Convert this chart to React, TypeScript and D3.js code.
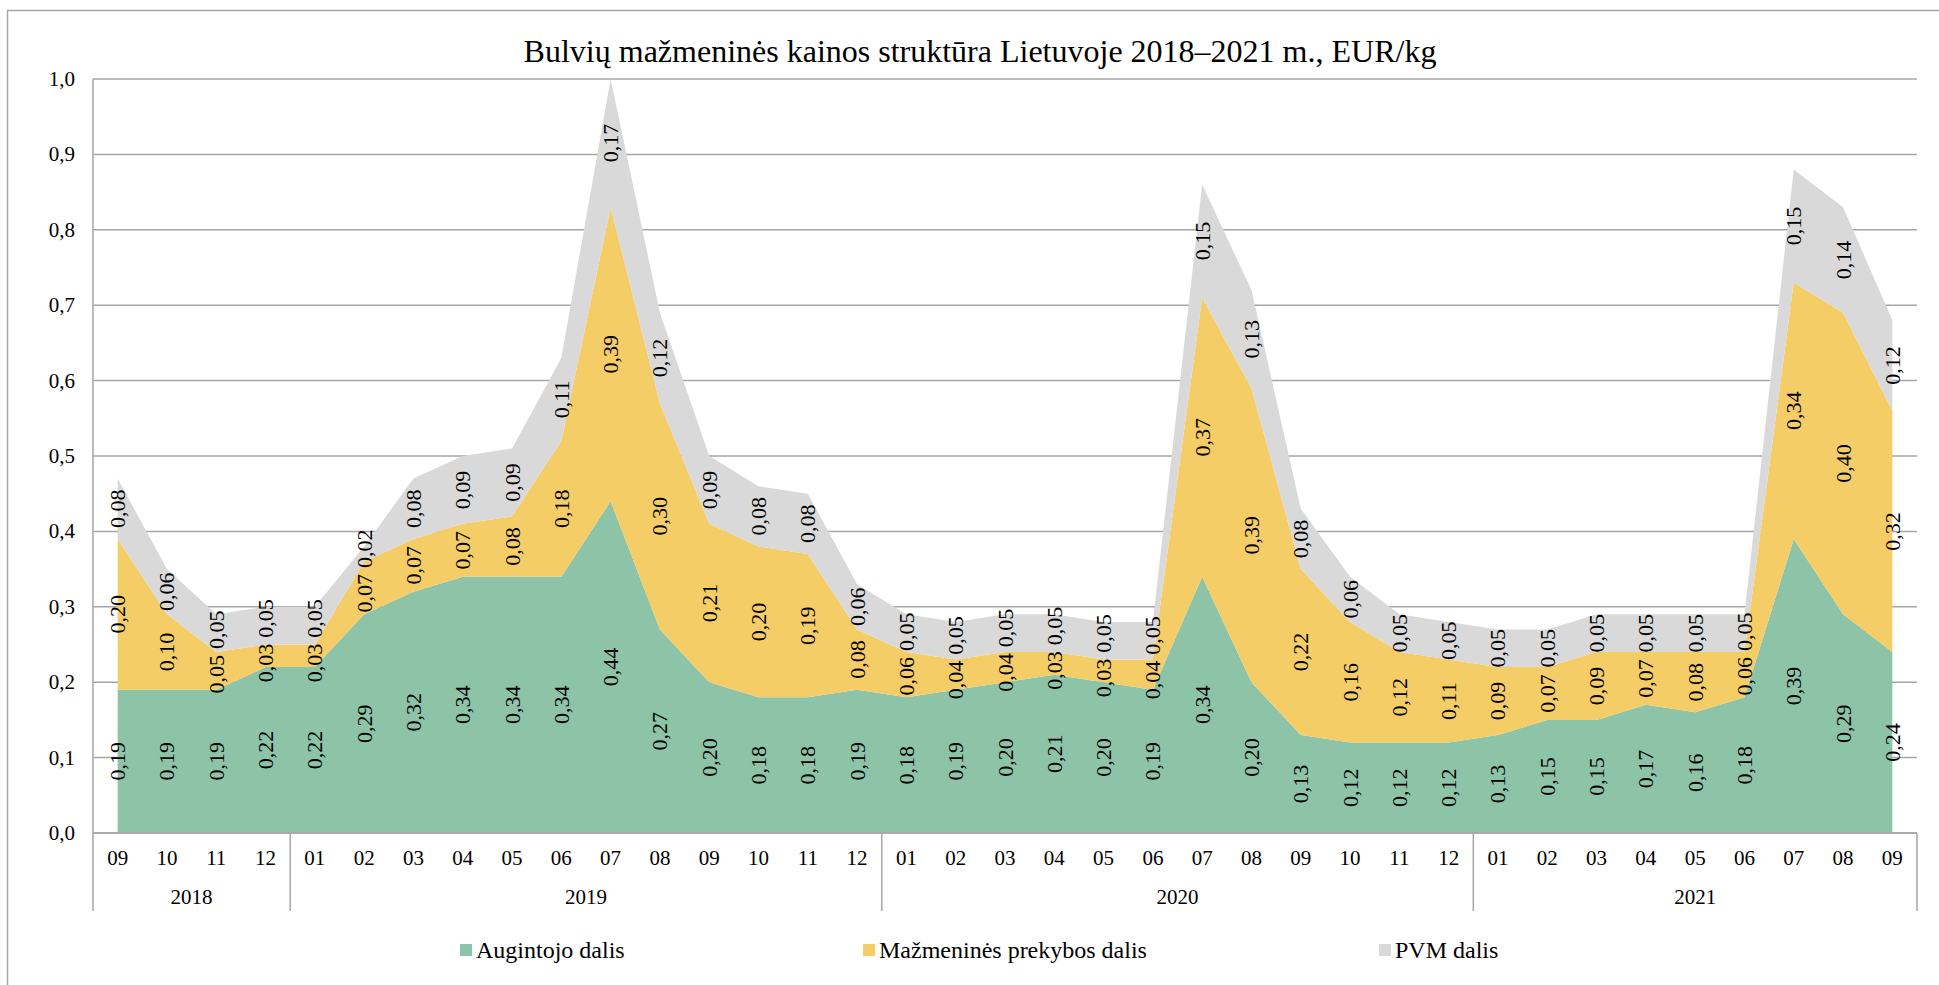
import React from 'react';
import * as d3 from 'd3';

const months = ['09','10','11','12','01','02','03','04','05','06','07','08','09','10','11','12','01','02','03','04','05','06','07','08','09','10','11','12','01','02','03','04','05','06','07','08','09'];
const yearLabels = ['2018', '2019', '2020', '2021'];
const yearMonthCounts = [4, 12, 12, 9];

const augintojo = [0.19,0.19,0.19,0.22,0.22,0.29,0.32,0.34,0.34,0.34,0.44,0.27,0.20,0.18,0.18,0.19,0.18,0.19,0.20,0.21,0.20,0.19,0.34,0.20,0.13,0.12,0.12,0.12,0.13,0.15,0.15,0.17,0.16,0.18,0.39,0.29,0.24];
const mazmenines = [0.20,0.10,0.05,0.03,0.03,0.07,0.07,0.07,0.08,0.18,0.39,0.30,0.21,0.20,0.19,0.08,0.06,0.04,0.04,0.03,0.03,0.04,0.37,0.39,0.22,0.16,0.12,0.11,0.09,0.07,0.09,0.07,0.08,0.06,0.34,0.40,0.32];
const pvm = [0.08,0.06,0.05,0.05,0.05,0.02,0.08,0.09,0.09,0.11,0.17,0.12,0.09,0.08,0.08,0.06,0.05,0.05,0.05,0.05,0.05,0.05,0.15,0.13,0.08,0.06,0.05,0.05,0.05,0.05,0.05,0.05,0.05,0.05,0.15,0.14,0.12];

const seriesNames = ['Augintojo dalis', 'Mažmeninės prekybos dalis', 'PVM dalis'];
const seriesColors = ['#8DC3A7', '#F5CD67', '#D9D9D9'];
const yTicks = [0, 0.1, 0.2, 0.3, 0.4, 0.5, 0.6, 0.7, 0.8, 0.9, 1.0];
const title = 'Bulvių mažmeninės kainos struktūra Lietuvoje 2018–2021 m., EUR/kg';

const W = 1939;
const H = 985;
const FONT = '"Liberation Serif", "Times New Roman", serif';

export default function App() {
  const left = 93, right = 1917, top = 79, bottom = 833;
  const n = months.length;
  const x = d3.scaleBand<number>().domain(d3.range(n)).range([left, right]);
  const xc = (i: number) => (x(i) as number) + x.bandwidth() / 2;
  const y = d3.scaleLinear().domain([0, 1]).range([bottom, top]);

  const rows = months.map((m, i) => ({ i, a: augintojo[i], m: mazmenines[i], p: pvm[i] }));
  const stacked = d3.stack<any>().keys(['a', 'm', 'p'])(rows);
  const area = d3.area<any>()
    .x((d) => xc(d.data.i))
    .y0((d) => y(d[0]))
    .y1((d) => y(d[1]));

  const fmt2 = (v: number) => d3.format('.2f')(v).replace('.', ',');
  const fmt1 = (v: number) => d3.format('.1f')(v).replace('.', ',');

  const labelFont = 22;
  // label extent along the value axis (rotated text length + small gap), in data units
  const minSep = (labelFont * 1.75 + 6) / (bottom - top);

  // label centres: segment midpoints, then pushed apart where they would overlap
  const labelPos: number[][] = months.map((_, i) => {
    const p = stacked.map((s) => (s[i][0] + s[i][1]) / 2);
    for (let it = 0; it < 60; it++) {
      for (let k = 0; k < p.length - 1; k++) {
        const gap = p[k + 1] - p[k];
        if (gap < minSep) {
          const o = (minSep - gap) / 2;
          p[k] -= o;
          p[k + 1] += o;
        }
      }
      if (p[0] < minSep / 2) p[0] = minSep / 2;
    }
    return p;
  });

  const bounds: number[] = [0];
  yearMonthCounts.forEach((c) => bounds.push(bounds[bounds.length - 1] + c));
  const boundaryX = (k: number) => (k >= n ? right : (x(k) as number));

  const monthY = 858;
  const yearY = 897;
  const catBottom = 911;
  const legendY = 950;
  const legendX = [460, 863, 1379];

  return (
    <svg width={W} height={H} style={{ position: 'absolute', left: 0, top: 0, background: '#fff' }} fontFamily={FONT}>
      <rect x={0} y={0} width={W} height={H} fill="#fff" />
      <rect x={7.5} y={10.5} width={W + 10} height={H + 10} fill="none" stroke="#a6a6a6" strokeWidth={1.5} />
      <text x={980} y={62} textAnchor="middle" fontSize={32} fill="#000">{title}</text>

      {yTicks.map((t) => (
        <line key={'g' + t} x1={left} x2={right} y1={y(t)} y2={y(t)} stroke="#a6a6a6" strokeWidth={1.5} />
      ))}

      {stacked.map((s, k) => (
        <path key={'a' + k} d={area(s) as string} fill={seriesColors[k]} />
      ))}

      <line x1={left} x2={right} y1={bottom} y2={bottom} stroke="#a6a6a6" strokeWidth={1.5} />
      <line x1={left} x2={left} y1={top} y2={catBottom} stroke="#a6a6a6" strokeWidth={1.5} />
      {bounds.slice(1).map((b, k) => (
        <line key={'s' + k} x1={boundaryX(b)} x2={boundaryX(b)} y1={bottom} y2={catBottom} stroke="#a6a6a6" strokeWidth={1.5} />
      ))}

      {yTicks.map((t) => (
        <text key={'yt' + t} x={75} y={y(t)} textAnchor="end" dominantBaseline="central" fontSize={21} fill="#000">{fmt1(t)}</text>
      ))}

      {months.map((m, i) => (
        <text key={'m' + i} x={xc(i)} y={monthY} textAnchor="middle" dominantBaseline="central" fontSize={21} fill="#000">{m}</text>
      ))}
      {yearLabels.map((yl, k) => (
        <text key={'y' + k} x={(boundaryX(bounds[k]) + boundaryX(bounds[k + 1])) / 2} y={yearY} textAnchor="middle" dominantBaseline="central" fontSize={21} fill="#000">{yl}</text>
      ))}

      {stacked.map((s, k) =>
        s.map((d: any, i: number) => {
          const cx = xc(i);
          const cy = y(labelPos[i][k]);
          return (
            <text key={'l' + k + '-' + i} transform={`translate(${cx},${cy}) rotate(-90)`} textAnchor="middle" dominantBaseline="central" fontSize={labelFont} fill="#000">
              {fmt2(d[1] - d[0])}
            </text>
          );
        })
      )}

      {seriesNames.map((name, k) => (
        <g key={'lg' + k} transform={`translate(${legendX[k]},${legendY})`}>
          <rect x={0} y={-6} width={12} height={12} fill={seriesColors[k]} />
          <text x={16} y={0} dominantBaseline="central" fontSize={24} fill="#000">{name}</text>
        </g>
      ))}
    </svg>
  );
}
